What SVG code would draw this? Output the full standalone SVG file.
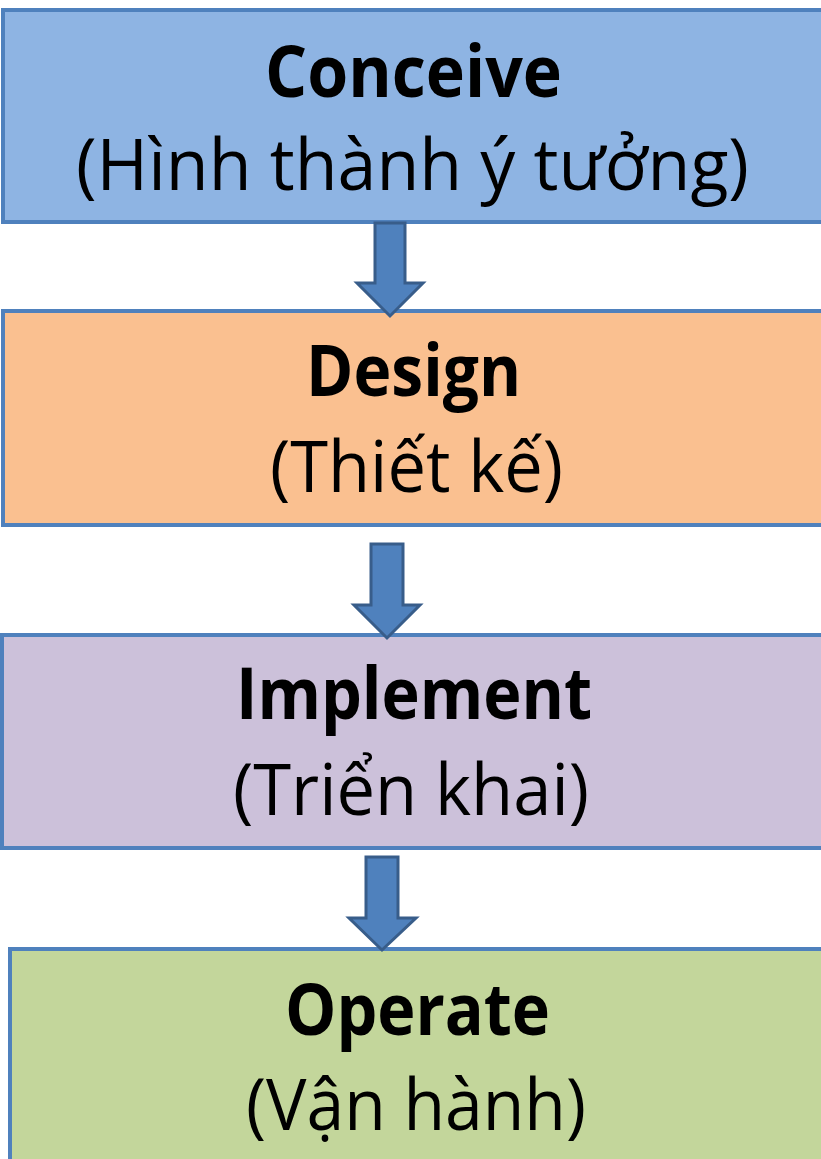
<svg xmlns="http://www.w3.org/2000/svg" width="821" height="1159" viewBox="0 0 821 1159">
<style>
.box{stroke:#4F81BD;stroke-width:4}
.arr{fill:#4F81BD;stroke:#385D8A;stroke-width:3;stroke-linejoin:miter}
.t1{font-family:"Open Sans","Noto Sans","Liberation Sans",sans-serif;font-weight:bold;font-size:72px;fill:#000}
.t2{font-family:"Open Sans","Noto Sans","Liberation Sans",sans-serif;font-weight:normal;font-size:72px;fill:#000}
</style>
<rect width="821" height="1159" fill="#FFFFFF"/>
<g id="conceive">
<rect class="box" x="3" y="10" width="830" height="212" fill="#8EB4E3"/>
<text class="t1" x="265" y="97" textLength="297" lengthAdjust="spacingAndGlyphs">Conceive</text>
<text class="t2" x="76" y="190" textLength="673" lengthAdjust="spacingAndGlyphs">(Hình thành ý tưởng)</text>
</g>
<g id="design">
<rect class="box" x="3" y="311" width="830" height="214" fill="#FAC090"/>
<text class="t1" x="306" y="396" textLength="215" lengthAdjust="spacingAndGlyphs">Design</text>
<text class="t2" x="270" y="492" textLength="293" lengthAdjust="spacingAndGlyphs">(Thiết kế)</text>
</g>
<g id="implement">
<rect class="box" x="2" y="635" width="830" height="213" fill="#CCC1DA"/>
<text class="t1" x="236" y="719" textLength="356" lengthAdjust="spacingAndGlyphs">Implement</text>
<text class="t2" x="233" y="815" textLength="356" lengthAdjust="spacingAndGlyphs">(Triển khai)</text>
</g>
<g id="operate">
<rect class="box" x="10" y="949" width="830" height="230" fill="#C3D69B"/>
<text class="t1" x="285" y="1035" textLength="265" lengthAdjust="spacingAndGlyphs">Operate</text>
<text class="t2" x="246" y="1130" textLength="340" lengthAdjust="spacingAndGlyphs">(Vận hành)</text>
</g>
<g id="connectors">
<polygon class="arr" points="375,223 405,223 405,283 423,283 390,316 357,283 375,283"/>
<polygon class="arr" points="371,544 403,544 403,605 420,605 387,638 354,605 371,605"/>
<polygon class="arr" points="366,857 398,857 398,918 416,918 382,950 349,918 366,918"/>
</g>
</svg>
